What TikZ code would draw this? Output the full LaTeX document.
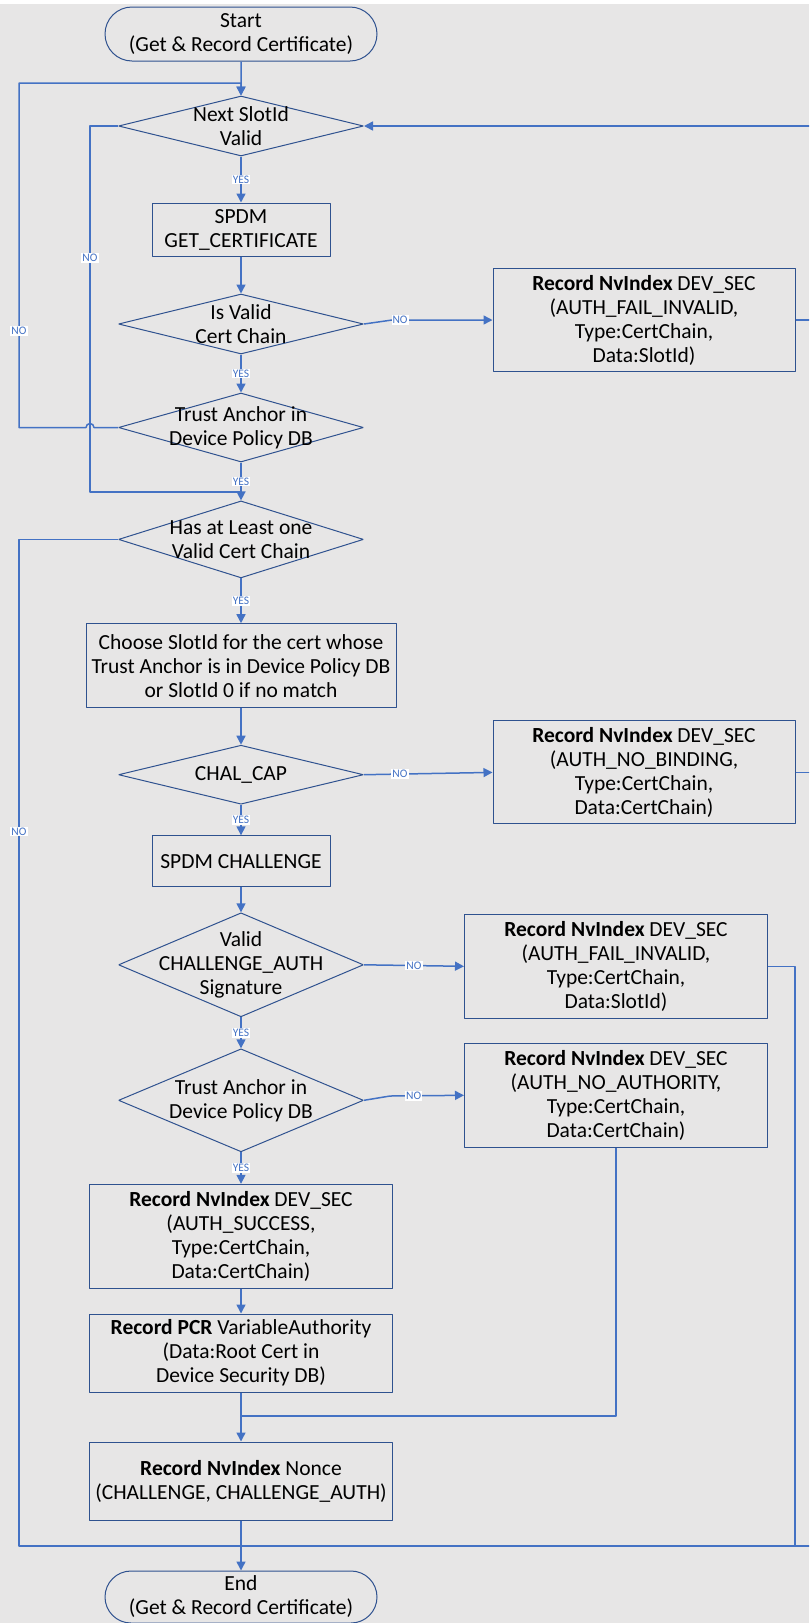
\documentclass[tikz,border=0pt]{standalone}
\usepackage{fontspec}
\setmainfont{Carlito}
\usetikzlibrary{arrows.meta,shapes.geometric,shapes.misc}
\begin{document}
\begin{tikzpicture}[x=1pt,y=-1pt,>={Triangle[length=9pt,width=9pt]},line join=bevel,
  flow/.style={draw=linecol,line width=1.5pt},
  txt/.style={font=\fontsize{21.5}{24}\selectfont,align=center,text=black},
  terminal/.style={rounded rectangle,draw=boxcol,line width=1pt,txt,minimum width=272pt,inner sep=0pt},
  stepbox/.style={rectangle,draw=boxcol,line width=1pt,txt,inner sep=0pt},
  decision/.style={diamond,draw=boxcol,line width=1pt,inner sep=0pt,minimum width=245pt},
  yesno/.style={fill=white,inner sep=1pt,text=linecol,font=\fontsize{11.5}{12}\selectfont},
]
\definecolor{linecol}{RGB}{68,114,196}
\definecolor{boxcol}{RGB}{47,82,143}
\definecolor{bgcol}{RGB}{231,230,230}
\useasboundingbox (0,0) rectangle (809,1623);
\clip (0,0) rectangle (809,1623);
\fill[white] (0,0) rectangle (809,4);
\fill[bgcol] (0,4) rectangle (809,1623);
%%
  % Node: start
  \node[terminal,minimum height=54pt] (start) at (241,34) {Start\\(Get \& Record Certificate)};
  % Node: d1
  \node[decision,minimum height=60pt,label={[txt]center:Next SlotId\\Valid}] (d1) at (241,126) {};
  % Node: getcert
  \node[stepbox,minimum width=178pt,minimum height=53pt] (getcert) at (241,229.5) {SPDM\\GET\_CERTIFICATE};
  % Node: d2
  \node[decision,minimum height=60pt,label={[txt]center:Is Valid\\Cert Chain}] (d2) at (241,324) {};
  % Node: rec1
  \node[stepbox,minimum width=302pt,minimum height=103pt] (rec1) at (644,320) {\textbf{Record NvIndex} DEV\_SEC\\(AUTH\_FAIL\_INVALID,\\Type:CertChain,\\Data:SlotId)};
  % Node: d3
  \node[decision,minimum height=69pt,label={[txt]center:Trust Anchor in\\Device Policy DB}] (d3) at (241,427.5) {};
  % Node: d4
  \node[decision,minimum height=77pt,label={[txt]center:Has at Least one\\Valid Cert Chain}] (d4) at (241,539.4) {};
  % Node: choose
  \node[stepbox,minimum width=310pt,minimum height=84pt] (choose) at (241,665.7) {Choose SlotId for the cert whose\\Trust Anchor is in Device Policy DB\\or SlotId 0 if no match};
  % Node: d5
  \node[decision,minimum height=59pt,label={[txt]center:CHAL\_CAP}] (d5) at (241,774.7) {};
  % Node: rec2
  \node[stepbox,minimum width=302pt,minimum height=103pt] (rec2) at (644,772.4) {\textbf{Record NvIndex} DEV\_SEC\\(AUTH\_NO\_BINDING,\\Type:CertChain,\\Data:CertChain)};
  % Node: challenge
  \node[stepbox,minimum width=178pt,minimum height=51pt] (challenge) at (241,861.3) {SPDM CHALLENGE};
  % Node: d6
  \node[decision,minimum height=104pt,label={[txt]center:Valid\\CHALLENGE\_AUTH\\Signature}] (d6) at (241,964.8) {};
  % Node: rec3
  \node[stepbox,minimum width=303pt,minimum height=104pt] (rec3) at (616,966.3) {\textbf{Record NvIndex} DEV\_SEC\\(AUTH\_FAIL\_INVALID,\\Type:CertChain,\\Data:SlotId)};
  % Node: d7
  \node[decision,minimum height=103pt,label={[txt]center:Trust Anchor in\\Device Policy DB}] (d7) at (241,1100.3) {};
  % Node: rec4
  \node[stepbox,minimum width=303pt,minimum height=104pt] (rec4) at (616,1095.3) {\textbf{Record NvIndex} DEV\_SEC\\(AUTH\_NO\_AUTHORITY,\\Type:CertChain,\\Data:CertChain)};
  % Node: success
  \node[stepbox,minimum width=303pt,minimum height=104pt] (success) at (241,1236.3) {\textbf{Record NvIndex} DEV\_SEC\\(AUTH\_SUCCESS,\\Type:CertChain,\\Data:CertChain)};
  % Node: pcr
  \node[stepbox,minimum width=303pt,minimum height=78pt] (pcr) at (241,1353) {\textbf{Record PCR} VariableAuthority\\(Data:Root Cert in\\Device Security DB)};
  % Node: nonce
  \node[stepbox,minimum width=303pt,minimum height=78pt] (nonce) at (241,1481) {\textbf{Record NvIndex} Nonce\\(CHALLENGE, CHALLENGE\_AUTH)};
  % Node: end
  \node[terminal,minimum height=52pt] (end) at (241,1597) {End\\(Get \& Record Certificate)};
%%
  \coordinate (rimA) at (815,320);
  \coordinate (rimB) at (815,126);
  \coordinate (rimC) at (815,772.4);
  \coordinate (rimD) at (815,1546);
  \coordinate (jB) at (241,492);
  \coordinate (jD) at (241,1416);
  \coordinate (jE) at (241,1546);
  \coordinate (jR) at (795,1546);
%%
  % Edge: start -> d1
  \draw[flow,->] (start) -- (d1);
  % Edge: d1 -> getcert
  \draw[flow,->] (d1) -- node[yesno]{YES} (getcert);
  % Edge: getcert -> d2
  \draw[flow,->] (getcert) -- (d2);
  % Edge: d2 -> rec1
  \draw[flow,->] (d2.east) -- (392,320) -- node[yesno,pos=0.08]{NO} (rec1.west);
  % Edge: rec1 -> rimA
  \draw[flow] (rec1.east) -- (rimA);
  % Edge: rimB -> d1
  \draw[flow,->] (rimB) -- (d1.east);
  % Edge: d2 -> d3
  \draw[flow,->] (d2) -- node[yesno]{YES} (d3);
  % Edge: d3 -> d1
  \draw[flow,->] (d3.west) -- (94,427.5) arc[start angle=0,end angle=180,radius=4pt]
    -- (19,427.5) -- node[yesno,pos=0.28]{NO} (19,83) -| (d1.north);
  % Edge: d1 -> d4
  \draw[flow] (d1.west) -- (90,126) -- node[yesno,pos=0.36]{NO} (90,492) -- (jB);
  % Edge: d3 -> d4
  \draw[flow,->] (d3) -- node[yesno]{YES} (d4);
  % Edge: d4 -> end
  \draw[flow] (d4.west) -- (19,539.4) -- node[yesno,pos=0.29]{NO} (19,1546) -- (jE);
  % Edge: d4 -> choose
  \draw[flow,->] (d4) -- node[yesno]{YES} (choose);
  % Edge: choose -> d5
  \draw[flow,->] (choose) -- (d5);
  % Edge: d5 -> rec2
  \draw[flow,->] (d5.east) -- node[yesno,pos=0.28]{NO} (rec2.west);
  % Edge: rec2 -> rimC
  \draw[flow] (rec2.east) -- (rimC);
  % Edge: d5 -> challenge
  \draw[flow,->] (d5) -- node[yesno]{YES} (challenge);
  % Edge: challenge -> d6
  \draw[flow,->] (challenge) -- (d6);
  % Edge: d6 -> rec3
  \draw[flow,->] (d6.east) -- node[yesno]{NO} (rec3.west);
  % Edge: rec3 -> end
  \draw[flow] (rec3.east) -| (jR);
  \draw[flow] (rimD) -- (jE);
  % Edge: d6 -> d7
  \draw[flow,->] (d6) -- node[yesno]{YES} (d7);
  % Edge: d7 -> rec4
  \draw[flow,->] (d7.east) -- (390,1096) -- node[yesno,pos=0.32]{NO} (rec4.west);
  % Edge: rec4 -> nonce
  \draw[flow] (rec4.south) |- (jD);
  % Edge: d7 -> success
  \draw[flow,->] (d7) -- node[yesno]{YES} (success);
  % Edge: success -> pcr
  \draw[flow,->] (success) -- (pcr);
  % Edge: pcr -> nonce
  \draw[flow,->] (pcr) -- (nonce);
  % Edge: nonce -> end
  \draw[flow,->] (nonce) -- (end);
%
\end{tikzpicture}
\end{document}
